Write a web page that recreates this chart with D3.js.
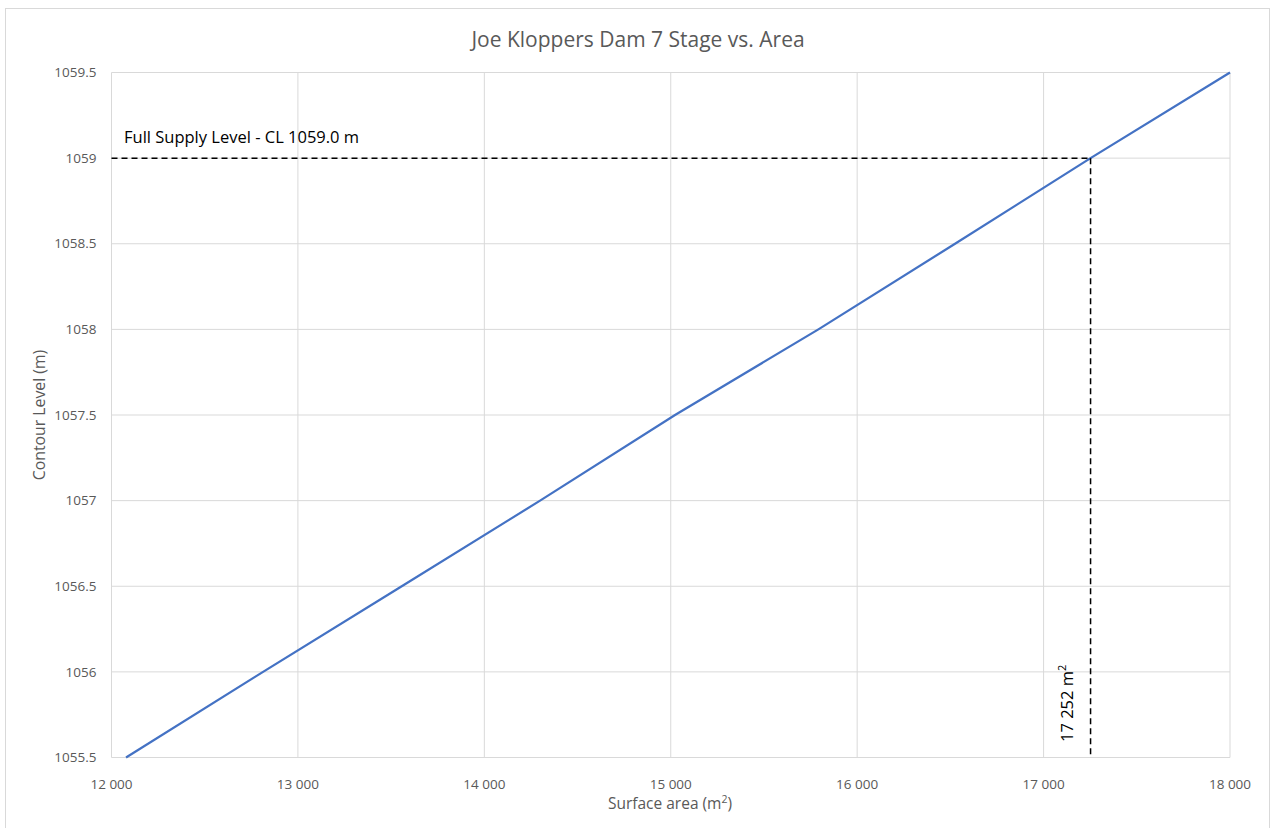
<!DOCTYPE html>
<html><head><meta charset="utf-8">
<script src="https://cdn.jsdelivr.net/npm/d3@7"></script>
<style>body{margin:0;background:#fff;font-family:Calibri,Carlito,"Open Sans",sans-serif;}</style>
</head><body><svg id="c" width="1275" height="828"></svg>
<script>
const levels = [1055.5, 1056, 1056.5, 1057, 1057.5, 1058, 1058.5, 1059, 1059.5];
const areas  = [12078, 12813, 13557, 14299, 15023, 15792, 16525, 17252, 18000];
const xTicks = [12000, 13000, 14000, 15000, 16000, 17000, 18000];
const yTicks = [1055.5, 1056, 1056.5, 1057, 1057.5, 1058, 1058.5, 1059, 1059.5];
const fslLevel = 1059.0;
const fslArea = 17252;
const title = "Joe Kloppers Dam 7 Stage vs. Area";

const svg = d3.select("#c");
const font = "'Open Sans', sans-serif";
svg.append("rect").attr("x",5.5).attr("y",8.5).attr("width",1264).attr("height",840)
  .attr("fill","#fff").attr("stroke","#d9d9d9");

const L=111.5, R=1230, T=72.5, B=757.5;
const x = d3.scaleLinear().domain([12000,18000]).range([L,R]);
const y = d3.scaleLinear().domain([1055.5,1059.5]).range([B,T]);
const fmt = d => d3.format(",")(d).replace(/,/g," ");

// gridlines
svg.append("g").selectAll("line").data(xTicks).join("line")
  .attr("x1",d=>x(d)).attr("x2",d=>x(d)).attr("y1",T).attr("y2",B)
  .attr("stroke","#d9d9d9").attr("stroke-width",1);
svg.append("g").selectAll("line").data(yTicks).join("line")
  .attr("x1",L).attr("x2",R).attr("y1",d=>y(d)).attr("y2",d=>y(d))
  .attr("stroke","#d9d9d9").attr("stroke-width",1);

// tick labels
svg.append("g").selectAll("text").data(yTicks).join("text")
  .attr("x",L-15).attr("y",d=>y(d)).attr("dy","0.35em").attr("text-anchor","end")
  .attr("font-family",font).attr("font-size",13.5).attr("fill","#595959")
  .text(d=>d3.format("")(d));
svg.append("g").selectAll("text").data(xTicks).join("text")
  .attr("x",d=>x(d)).attr("y",789).attr("text-anchor","middle")
  .attr("font-family",font).attr("font-size",13.5).attr("fill","#595959")
  .text(fmt);

// axis titles
const xt = svg.append("text").attr("x",670).attr("y",809).attr("text-anchor","middle")
  .attr("font-family",font).attr("font-size",15.5).attr("fill","#595959");
xt.append("tspan").text("Surface area (m");
xt.append("tspan").attr("dy",-6).attr("font-size",10.5).text("2");
xt.append("tspan").attr("dy",6).text(")");
svg.append("text").attr("transform","translate(45,415) rotate(-90)").attr("text-anchor","middle")
  .attr("font-family",font).attr("font-size",15.8).attr("fill","#595959").text("Contour Level (m)");

// title
svg.append("text").attr("x",638).attr("y",47).attr("text-anchor","middle")
  .attr("font-family",font).attr("font-size",21).attr("fill","#595959").text(title);

// data line
const pts = areas.map((a,i)=>[a,levels[i]]);
svg.append("path").datum(pts)
  .attr("d", d3.line().x(d=>x(d[0])).y(d=>y(d[1])))
  .attr("fill","none").attr("stroke","#4472C4").attr("stroke-width",2.25);

// FSL dashed lines
svg.append("line").attr("x1",L).attr("x2",x(fslArea)).attr("y1",y(fslLevel)).attr("y2",y(fslLevel))
  .attr("stroke","#000").attr("stroke-width",1.5).attr("stroke-dasharray","6,4");
svg.append("line").attr("x1",x(fslArea)).attr("x2",x(fslArea)).attr("y1",y(fslLevel)).attr("y2",B)
  .attr("stroke","#000").attr("stroke-width",1.5).attr("stroke-dasharray","6,4");

svg.append("text").attr("x",124).attr("y",143)
  .attr("font-family",font).attr("font-size",16.5).attr("fill","#000")
  .text("Full Supply Level - CL 1059.0 m");
const vt = svg.append("text").attr("transform",`translate(${x(fslArea)-18},742) rotate(-90)`)
  .attr("font-family",font).attr("font-size",16.5).attr("fill","#000");
vt.append("tspan").text(fmt(fslArea)+" m");
vt.append("tspan").attr("dy",-7).attr("font-size",11).text("2");
</script></body></html>
